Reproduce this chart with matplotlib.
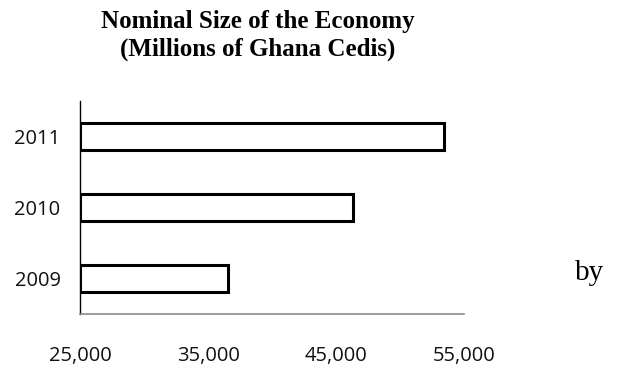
import matplotlib
matplotlib.use("Agg")
import matplotlib.pyplot as plt
from matplotlib.ticker import FuncFormatter

years = ["2009", "2010", "2011"]
gdp_millions = [36600, 46300, 53400]
x_ticks = [25000, 35000, 45000, 55000]

fig = plt.figure(figsize=(6.2, 3.66), dpi=100)
ax = fig.add_axes([80 / 620, 1 - 314 / 366, 384 / 620, 213 / 366])

pos = list(range(len(years)))
base = x_ticks[0]
ax.barh(pos, [v - base for v in gdp_millions], left=base, height=0.38,
        color="white", edgecolor="black", linewidth=2.2)

ax.set_xlim(x_ticks[0], x_ticks[-1])
ax.set_ylim(-0.5, len(years) - 0.5)
ax.set_yticks(pos)
ax.set_yticklabels(years)
ax.set_xticks(x_ticks)
ax.xaxis.set_major_formatter(FuncFormatter(lambda v, p: f"{int(v):,}"))

tick_font = "Open Sans"
for lbl in ax.get_yticklabels() + ax.get_xticklabels():
    lbl.set_fontfamily(tick_font)
    lbl.set_fontsize(14.5)
    lbl.set_color("#111111")
ax.tick_params(axis="both", length=0)
ax.tick_params(axis="y", pad=14)
ax.tick_params(axis="x", pad=23)

for side in ("top", "right"):
    ax.spines[side].set_visible(False)
ax.spines["left"].set_color("black")
ax.spines["left"].set_linewidth(1.0)
ax.spines["bottom"].set_color("#8c8c8c")
ax.spines["bottom"].set_linewidth(1.2)

fig.text(258 / 620, 1 - 28 / 366, "Nominal Size of the Economy",
         ha="center", va="baseline", family="Liberation Serif",
         fontweight="bold", fontsize=18)
fig.text(258 / 620, 1 - 56 / 366, "(Millions of Ghana Cedis)",
         ha="center", va="baseline", family="Liberation Serif",
         fontweight="bold", fontsize=18)

fig.text(590 / 620, 1 - 280 / 366, "by", ha="center", va="baseline",
         family="Liberation Serif", fontsize=21)

fig.savefig("out.png", dpi=100, facecolor="white")
